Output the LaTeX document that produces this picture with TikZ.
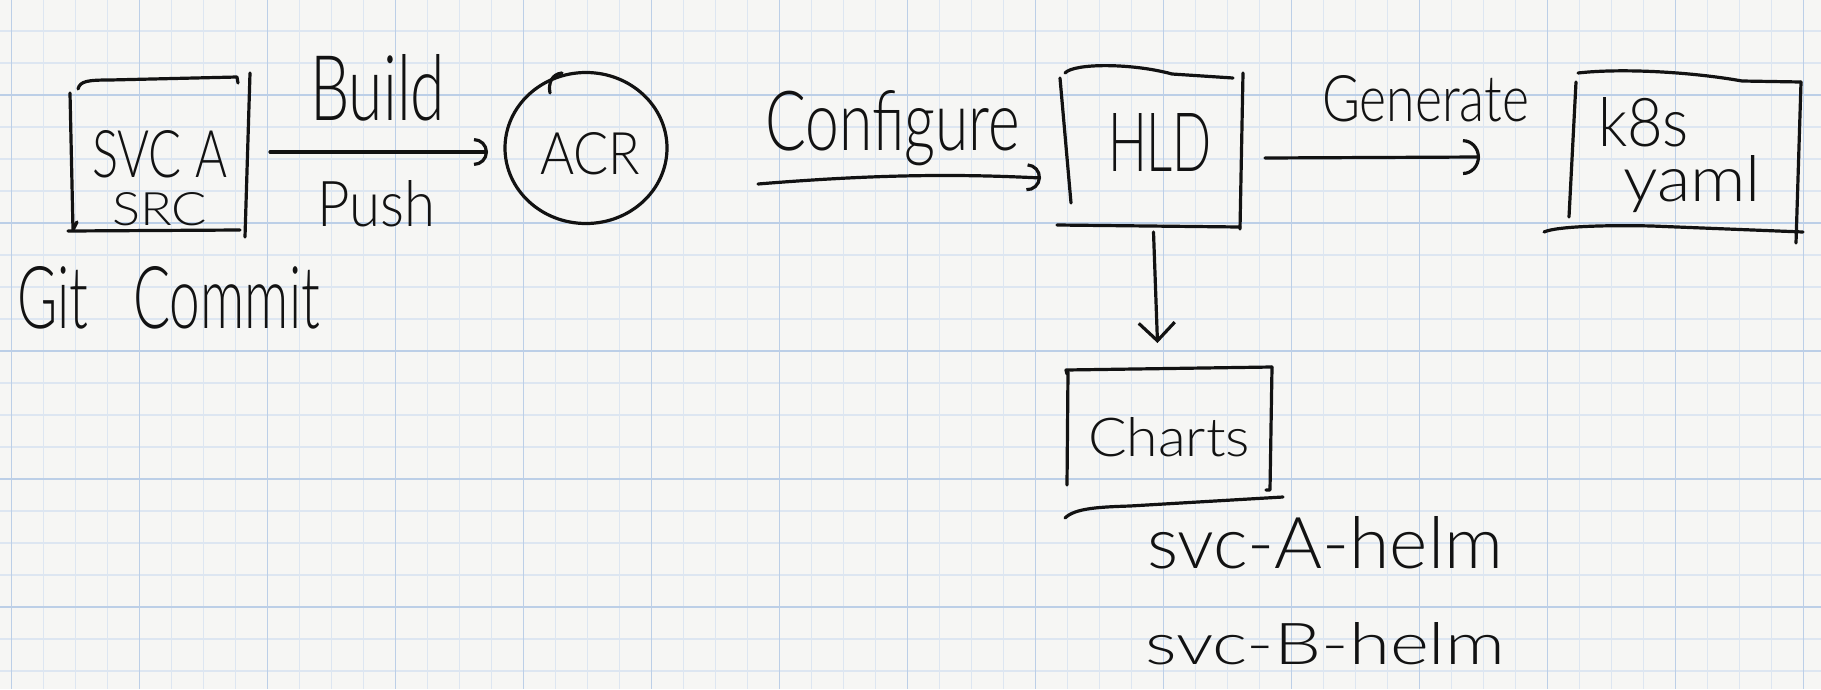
\documentclass[tikz,border=0pt]{standalone}
\usepackage{fontspec}
\usepackage{graphicx}
\newfontfamily\hand{Lato Light}
\usetikzlibrary{arrows.meta,shapes.geometric}
\definecolor{paper}{HTML}{F6F6F4}
\definecolor{gridminor}{HTML}{DDE6F1}
\definecolor{gridmajor}{HTML}{BCCFE7}
\definecolor{ink}{HTML}{121212}
\newcommand\hw[3]{\resizebox{#1pt}{#2pt}{\raisebox{0pt}[\height][0pt]{\hand #3}}}
\tikzset{
  ink/.style={draw=ink, line width=3.2pt, line cap=round, line join=round},
  boxnode/.style={rectangle, inner sep=0pt, outer sep=0pt},
  txt/.style={anchor=base west, inner sep=0pt, outer sep=0pt, text=ink},
  harrow/.style={ink, -{Arc Barb[length=14pt,width=28pt]}},
  bigarrow/.style={ink, -{Arc Barb[length=17pt,width=36pt]}},
  varrow/.style={ink, -{Straight Barb[length=18pt,width=36pt]}},
}
\begin{document}
\begin{tikzpicture}[x=1pt,y=-1pt]
\useasboundingbox (0,0) rectangle (1821,689);
\fill[paper] (0,0) rectangle (1821,689);
% grid paper
\foreach \gx in {11.5,43.5,...,1820} \draw[gridminor, line width=1.2pt] (\gx,0) -- (\gx,689);
\foreach \gy in {31,63,...,689} \draw[gridminor, line width=1.2pt] (0,\gy) -- (1821,\gy);
\foreach \gx in {11.5,139.5,...,1820} \draw[gridmajor, line width=1.8pt] (\gx,0) -- (\gx,689);
\foreach \gy in {95,223,...,689} \draw[gridmajor, line width=1.8pt] (0,\gy) -- (1821,\gy);

% box nodes
\node[boxnode, minimum width=180pt, minimum height=154pt] (src) at (160,154) {};
\node[ellipse, ink, outer sep=0pt, inner sep=0pt, minimum width=162pt, minimum height=151pt] (acr) at (586,148) {};
\node[boxnode, minimum width=181pt, minimum height=152pt] (hld) at (1152.5,151) {};
\node[boxnode, minimum width=229pt, minimum height=154pt] (k8s) at (1686.5,155) {};
\node[boxnode, minimum width=205pt, minimum height=122pt] (charts) at (1169.5,429) {};

% hand drawn outlines
% SRC box
\draw[ink] ([shift={(8,12)}]src.north west) .. controls ([shift={(10,4)}]src.north west) and ([shift={(18,3)}]src.north west) .. ([shift={(40,3)}]src.north west) -- ([shift={(-13,0)}]src.north east) -- ([shift={(-12,6)}]src.north east);
\draw[ink] ([shift={(0,16)}]src.north west) -- ([shift={(3,-1)}]src.south west) -- ([shift={(7,-9)}]src.south west);
\draw[ink] ([shift={(0,-4)}]src.north east) -- ([shift={(-5,6)}]src.south east);
\draw[ink] ([shift={(-2,0)}]src.south west) -- ([shift={(-10,-1)}]src.south east);
% ACR start hook
\draw[ink] ([shift={(-36,-55)}]acr.center) .. controls ([shift={(-38,-65)}]acr.center) and ([shift={(-34,-74)}]acr.center) .. ([shift={(-24,-75)}]acr.center);
% HLD box
\draw[ink] ([shift={(3,-2)}]hld.north west) .. controls ([shift={(12,-12)}]hld.north west) and ([shift={(70,-12)}]hld.north west) .. ([shift={(110,-1)}]hld.north west) -- ([shift={(-10,3)}]hld.north east);
\draw[ink] ([shift={(-2,3)}]hld.north west) -- ([shift={(9,-24)}]hld.south west);
\draw[ink] ([shift={(0,-2)}]hld.north east) -- ([shift={(-3,2)}]hld.south east);
\draw[ink] ([shift={(-5,-2)}]hld.south west) -- ([shift={(-3,0)}]hld.south east);
% k8s box
\draw[ink] ([shift={(6,-5)}]k8s.north west) .. controls ([shift={(50,-10)}]k8s.north west) and ([shift={(120,-6)}]k8s.north west) .. ([shift={(170,3)}]k8s.north west) -- ([shift={(0,4)}]k8s.north east);
\draw[ink] ([shift={(4,4)}]k8s.north west) -- ([shift={(-3,-15)}]k8s.south west);
\draw[ink] ([shift={(0,4)}]k8s.north east) -- ([shift={(-5,11)}]k8s.south east);
\draw[ink] ([shift={(-28,0)}]k8s.south west) .. controls ([shift={(-15,-6)}]k8s.south west) and ([shift={(40,-7)}]k8s.south west) .. ([shift={(80,-6)}]k8s.south west) -- ([shift={(2,0)}]k8s.south east);
% Charts box
\draw[ink] ([shift={(0,6)}]charts.north west) -- ([shift={(-1,2)}]charts.north west) -- ([shift={(0,-1)}]charts.north east);
\draw[ink] ([shift={(1,4)}]charts.north west) -- ([shift={(0,-5)}]charts.south west);
\draw[ink] ([shift={(0,-1)}]charts.north east) -- ([shift={(-2,0)}]charts.south east) -- ([shift={(-6,0)}]charts.south east);
\draw[ink] ([shift={(-2,28)}]charts.south west) .. controls ([shift={(8,18)}]charts.south west) and ([shift={(33,17)}]charts.south west) .. ([shift={(63,16)}]charts.south west) -- ([shift={(11,7)}]charts.south east);

% texts
\node[txt] (tSvc) at (92,177) {\hw{135}{47}{SVC A}};
\node[txt] (tSrc) at (112,225) {\hw{95}{33}{SRC}};
\node[txt] (tBuild) at (310,120) {\hw{135}{66}{Build}};
\node[txt] (tPush) at (317,226) {\hw{118}{46}{Push}};
\node[txt] (tAcr) at (540,174) {\hw{100}{42}{ACR}};
\node[txt] (tGit) at (17,328) {\hw{303}{62}{Git \hspace{0.55em}Commit}};
\node[txt] (tCfg) at (765,150) {\hw{255}{60}{Configure}};
\node[txt] (tHld) at (1108,171) {\hw{104}{58}{HLD}};
\node[txt] (tGen) at (1322,121) {\hw{207}{46}{Generate}};
\node[txt] (tK8s) at (1598,146) {\hw{91}{49}{k8s}};
\node[txt] (tYaml) at (1623,201) {\hw{138}{46}{yaml}};
\node[txt] (tCharts) at (1088,456) {\hw{162}{39}{Charts}};
\node[txt] (tHelmA) at (1147,568) {\hw{356}{52}{svc-A-helm}};
\node[txt] (tHelmB) at (1145,664) {\hw{360}{42}{svc-B-helm}};

% connectors
\coordinate (cfgStart) at (758,184);
\draw[harrow] ([shift={(20,-2)}]src.east) -- ([shift={(-17,4)}]acr.west);
\draw[harrow] (cfgStart) .. controls (880,174) and (960,174) .. ([shift={(-21,27)}]hld.west);
\draw[bigarrow] ([shift={(22,7)}]hld.east) -- ([shift={(-92,2)}]k8s.west);
\draw[varrow] ([shift={(1,5)}]hld.south) -- ([shift={(-12,-25)}]charts.north);
\end{tikzpicture}
\end{document}
